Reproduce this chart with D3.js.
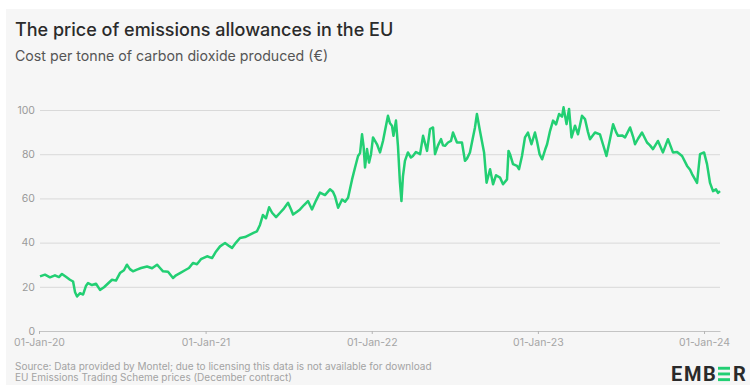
<!DOCTYPE html>
<html>
<head>
<meta charset="utf-8">
<script src="https://cdn.jsdelivr.net/npm/d3@7"></script>
<style>
  html, body { margin: 0; padding: 0; background: #fff; }
  svg { display: block; font-family: Inter, "Noto Sans", sans-serif; }
</style>
</head>
<body>
<div id="chart"></div>
<script>
// years since 01-Jan-2020 for each reading, and the price at that point (EUR / tonne)
var yearsSince2020 = [
  0.006, 0.036, 0.066, 0.096, 0.120, 0.138, 0.162, 0.186, 0.205, 0.217, 0.229, 0.247, 0.265, 0.283, 0.295,
  0.319, 0.343, 0.367, 0.391, 0.415, 0.439, 0.463, 0.487, 0.511, 0.529, 0.547, 0.565, 0.589, 0.614, 0.650,
  0.680, 0.710, 0.728, 0.746, 0.776, 0.806, 0.824, 0.848, 0.878, 0.902, 0.926, 0.950, 0.974, 1.011, 1.041,
  1.065, 1.089, 1.119, 1.143, 1.161, 1.185, 1.209, 1.239, 1.269, 1.293, 1.311, 1.329, 1.347, 1.365, 1.384,
  1.402, 1.426, 1.450, 1.474, 1.498, 1.516, 1.528, 1.552, 1.570, 1.594, 1.618, 1.642, 1.666, 1.690, 1.720,
  1.750, 1.768, 1.780, 1.799, 1.823, 1.841, 1.859, 1.883, 1.901, 1.919, 1.931, 1.943, 1.952, 1.961, 1.973,
  1.985, 1.997, 2.009, 2.033, 2.051, 2.069, 2.081, 2.099, 2.111, 2.123, 2.132, 2.147, 2.159, 2.171, 2.180,
  2.189, 2.201, 2.219, 2.237, 2.249, 2.267, 2.292, 2.310, 2.334, 2.352, 2.370, 2.382, 2.400, 2.418, 2.430,
  2.442, 2.460, 2.478, 2.490, 2.514, 2.544, 2.562, 2.574, 2.592, 2.610, 2.622, 2.634, 2.652, 2.677, 2.692,
  2.713, 2.731, 2.749, 2.773, 2.791, 2.815, 2.824, 2.833, 2.851, 2.875, 2.887, 2.905, 2.923, 2.941, 2.962,
  2.983, 2.995, 3.011, 3.026, 3.044, 3.056, 3.074, 3.092, 3.110, 3.128, 3.146, 3.155, 3.173, 3.188, 3.203,
  3.224, 3.242, 3.266, 3.284, 3.302, 3.314, 3.344, 3.374, 3.392, 3.413, 3.435, 3.453, 3.471, 3.483, 3.507,
  3.525, 3.555, 3.573, 3.585, 3.603, 3.627, 3.657, 3.675, 3.693, 3.723, 3.753, 3.783, 3.813, 3.838, 3.868,
  3.898, 3.916, 3.928, 3.958, 3.976, 4.000, 4.018, 4.036, 4.054, 4.072, 4.084, 4.096
];
var prices = [
  24.7, 25.5, 24.3, 25.2, 24.4, 25.8, 24.5, 23.2, 22.4, 17.5, 15.6, 17.1, 16.5, 20.5, 21.7,
  20.8, 21.4, 18.6, 19.8, 21.5, 23.2, 22.8, 26.2, 27.5, 30.0, 28.0, 27.0, 27.8, 28.5, 29.2,
  28.4, 30.0, 28.5, 27.0, 26.8, 24.0, 25.2, 26.2, 27.5, 28.5, 30.8, 30.2, 32.5, 33.8, 33.0,
  36.0, 38.3, 39.8, 38.5, 37.6, 40.0, 42.1, 42.5, 43.6, 44.5, 45.1, 48.0, 52.5, 51.0, 56.0,
  53.5, 51.5, 53.5, 55.5, 58.0, 55.0, 52.7, 54.0, 55.0, 57.0, 58.8, 55.0, 59.0, 62.6, 61.5,
  64.1, 63.0, 61.0, 55.8, 59.5, 58.5, 60.3, 68.6, 74.0, 79.2, 80.5, 89.0, 83.8, 74.0, 82.3,
  76.2, 80.0, 87.6, 84.5, 80.8, 86.0, 90.6, 97.4, 94.0, 92.9, 88.3, 95.2, 83.8, 67.1, 58.8,
  70.0, 77.0, 80.8, 78.5, 79.2, 81.0, 80.0, 88.3, 81.5, 91.4, 92.1, 80.0, 84.0, 86.8, 84.0,
  83.8, 85.3, 86.0, 89.8, 85.3, 85.3, 77.0, 78.0, 80.8, 87.6, 92.0, 98.2, 90.6, 80.8, 67.1,
  73.2, 66.4, 70.5, 69.4, 66.4, 68.6, 81.5, 80.0, 75.5, 74.7, 73.2, 79.2, 87.6, 89.8, 84.5,
  89.8, 86.0, 80.0, 77.7, 82.0, 84.5, 90.6, 95.2, 93.5, 98.2, 97.0, 101.2, 93.6, 100.5, 87.6,
  92.9, 89.0, 97.4, 95.9, 90.0, 86.8, 89.8, 89.0, 84.5, 79.2, 87.0, 93.6, 90.0, 88.3, 88.5,
  87.6, 92.1, 88.0, 84.5, 87.0, 89.8, 85.3, 84.0, 82.3, 86.0, 80.8, 86.8, 80.8, 81.0, 79.2,
  74.7, 73.0, 71.0, 67.0, 80.0, 80.8, 75.5, 67.0, 63.3, 64.1, 62.5, 63.3
];
var xTickDates = ['2020-01-01', '2021-01-01', '2022-01-01', '2023-01-01', '2024-01-01'];
var xTickLabels = ['01-Jan-20', '01-Jan-21', '01-Jan-22', '01-Jan-23', '01-Jan-24'];
var yTicks = [0, 20, 40, 60, 80, 100];

(function() {
  var width = 750, height = 385;
  var start = Date.UTC(2020, 0, 1), dayMs = 864e5;
  var series, x, y, svg, plot, line, logo, green = '#22cf73';

  series = yearsSince2020.map(function(t, i) {
    return { date: new Date(start + t * 365.25 * dayMs), value: prices[i] };
  });

  x = d3.scaleUtc()
    .domain([new Date(start), series[series.length - 1].date])
    .range([39, 720]);
  y = d3.scaleLinear().domain([0, 100]).range([331, 110]);

  svg = d3.select('#chart').append('svg')
    .attr('width', width)
    .attr('height', height);

  // grey card behind everything
  svg.append('rect')
    .attr('x', 6).attr('y', 9)
    .attr('width', width - 6).attr('height', height - 9)
    .attr('fill', '#f6f6f6');

  svg.append('text')
    .attr('x', 15).attr('y', 36)
    .attr('font-size', 18).attr('font-weight', 500)
    .attr('fill', '#2b2b2b')
    .text('The price of emissions allowances in the EU');

  svg.append('text')
    .attr('x', 15).attr('y', 61)
    .attr('font-size', 14.2)
    .attr('fill', '#555')
    .text('Cost per tonne of carbon dioxide produced (\u20ac)');

  // y gridlines + labels
  plot = svg.append('g');
  plot.append('g')
    .attr('transform', 'translate(40,0)')
    .call(d3.axisLeft(y).tickValues(yTicks).tickSize(-680).tickPadding(5))
    .call(function(g) {
      g.select('.domain').remove();
      g.selectAll('.tick line').attr('stroke', d => d === 0 ? 'none' : '#d9d9d9');
      g.selectAll('.tick text')
        .attr('fill', '#9a9a9a')
        .attr('font-size', 10.5)
        .attr('font-family', 'Inter, "Noto Sans", sans-serif');
    });

  // x axis
  plot.append('g')
    .attr('transform', 'translate(0,' + y(0) + ')')
    .call(d3.axisBottom(x)
      .tickValues(xTickDates.map(d => new Date(d + 'T00:00:00Z')))
      .tickFormat((d, i) => xTickLabels[i])
      .tickSize(3).tickSizeOuter(0).tickPadding(5))
    .call(function(g) {
      g.select('.domain').attr('stroke', '#c4c4c4');
      g.selectAll('.tick line').attr('stroke', '#b5b5b5');
      g.selectAll('.tick text')
        .attr('fill', '#a5a5a5')
        .attr('font-size', 10.5)
        .attr('font-family', 'Inter, "Noto Sans", sans-serif');
    });

  line = d3.line()
    .x(d => x(d.date))
    .y(d => y(d.value));

  plot.append('path')
    .datum(series)
    .attr('d', line)
    .attr('fill', 'none')
    .attr('stroke', green)
    .attr('stroke-width', 2.5)
    .attr('stroke-linejoin', 'round');

  // footer
  svg.append('text')
    .attr('x', 15).attr('y', 370)
    .attr('font-size', 10).attr('fill', '#a3a3a3')
    .text('Source: Data provided by Montel; due to licensing this data is not available for download');
  svg.append('text')
    .attr('x', 15).attr('y', 381)
    .attr('font-size', 10).attr('fill', '#a3a3a3')
    .text('EU Emissions Trading Scheme prices (December contract)');

  // EMBER logo, the fourth letter is three green bars
  logo = svg.append('g').attr('transform', 'translate(671,381)');
  [['E', 0], ['M', 13], ['B', 32], ['R', 62]].forEach(function(p) {
    logo.append('text')
      .attr('x', p[1]).attr('y', 0)
      .attr('font-size', 20).attr('font-weight', 700)
      .attr('font-family', 'Roboto, Inter, sans-serif')
      .attr('fill', '#2a2a2a')
      .text(p[0]);
  });
  [0, 1, 2].forEach(function(k) {
    logo.append('rect')
      .attr('x', 47).attr('y', -14.2 + k * 5.7)
      .attr('width', 12).attr('height', 2.9)
      .attr('fill', green);
  });
}).call(this);
</script>
</body>
</html>
